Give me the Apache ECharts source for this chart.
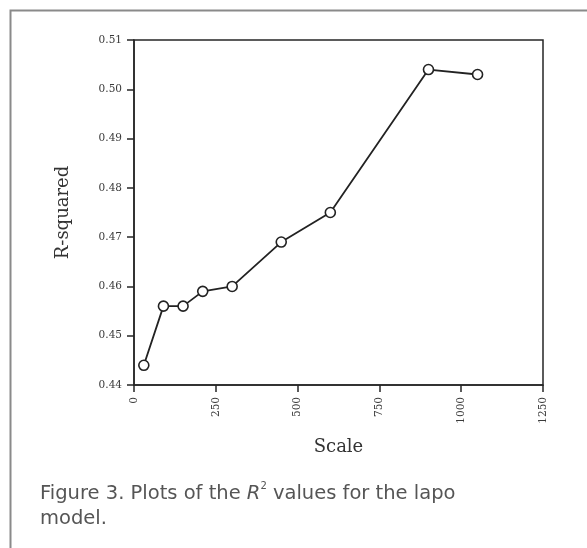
<!DOCTYPE html>
<html>
<head>
<meta charset="utf-8">
<script src="https://cdn.jsdelivr.net/npm/echarts@6/dist/echarts.min.js"></script>
<style>
html,body{margin:0;padding:0;background:#fff;}
#chart{width:587px;height:548px;}
</style>
</head>
<body>
<div id="chart"></div>
<script>
var scaleValues = [30, 90, 150, 210, 300, 450, 600, 900, 1050];
var rSquared = [0.444, 0.456, 0.456, 0.459, 0.460, 0.469, 0.475, 0.504, 0.503];
var xTicks = [0, 250, 500, 750, 1000, 1250];
var yTicks = [0.44, 0.45, 0.46, 0.47, 0.48, 0.49, 0.50, 0.51];

var chart = echarts.init(document.getElementById('chart'));
var serif = '"DejaVu Serif", "Liberation Serif", serif';
var sans = '"DejaVu Sans", "Liberation Sans", sans-serif';
var axisColor = '#262626';
chart.setOption({
  backgroundColor: '#fff',
  animation: false,
  grid: {left: 134, top: 40, width: 409, height: 345, show: true, borderColor: axisColor, borderWidth: 1.5, containLabel: false},
  xAxis: {
    type: 'value', min: xTicks[0], max: xTicks[xTicks.length - 1], interval: 250,
    name: 'Scale', nameLocation: 'middle', nameGap: 53,
    nameTextStyle: {fontFamily: serif, fontSize: 18, color: '#333'},
    axisLine: {show: true, lineStyle: {color: axisColor, width: 1.5}},
    axisTick: {show: true, length: 7, lineStyle: {color: axisColor, width: 1.5}},
    axisLabel: {rotate: 90, fontFamily: serif, fontSize: 10.5, color: '#3a3a3a', margin: 12, formatter: function (v) { return String(v); }},
    splitLine: {show: false}
  },
  yAxis: {
    type: 'value', min: yTicks[0], max: yTicks[yTicks.length - 1], interval: 0.01,
    name: 'R-squared', nameLocation: 'middle', nameGap: 62, nameRotate: 90,
    nameTextStyle: {fontFamily: serif, fontSize: 18, color: '#333'},
    axisLine: {show: true, lineStyle: {color: axisColor, width: 1.5}},
    axisTick: {show: true, length: 7, lineStyle: {color: axisColor, width: 1.5}},
    axisLabel: {fontFamily: serif, fontSize: 10.5, color: '#3a3a3a', margin: 12, formatter: function (v) { return v.toFixed(2); }},
    splitLine: {show: false}
  },
  series: [{
    type: 'line',
    data: scaleValues.map(function (x, i) { return [x, rSquared[i]]; }),
    symbol: 'circle', symbolSize: 10,
    lineStyle: {color: '#222', width: 1.8},
    itemStyle: {color: '#fff', borderColor: '#222', borderWidth: 1.6}
  }],
  graphic: [
    {type: 'polyline', shape: {points: [[10.5, 548], [10.5, 10.5], [587, 10.5]]}, style: {stroke: '#8a8a8a', lineWidth: 2, fill: null}},
    {type: 'text', left: 40, top: 481, style: {
      text: 'Figure 3. Plots of the {i|R}{sup|2} values for the lapo\nmodel.',
      rich: {
        i: {fontStyle: 'italic', fontFamily: sans, fontSize: 19.5, fill: '#555'},
        sup: {fontFamily: sans, fontSize: 10, fill: '#555', verticalAlign: 'top', padding: [0, 0, 8, 0]}
      },
      font: '19.5px "DejaVu Sans", sans-serif', fill: '#555', lineHeight: 25
    }}
  ]
});
</script>
</body>
</html>
